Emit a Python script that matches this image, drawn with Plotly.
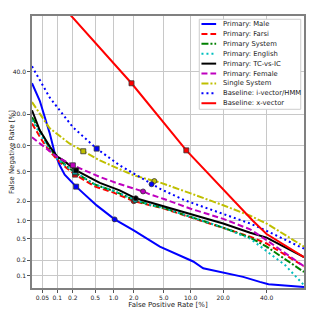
import plotly.graph_objects as go
from statistics import NormalDist

# DET curves, values in percent
male_fpr = [0.03, 0.044, 0.071, 0.089, 0.112, 0.14, 0.23, 0.53, 1.04, 2.0, 4.46, 10.6, 13.3, 21.3, 28.4, 36.5, 41, 60]
male_fnr = [34, 25.6, 13.3, 8.4, 6.0, 4.6, 3.2, 1.73, 1.05, 0.69, 0.36, 0.19, 0.14, 0.11, 0.094, 0.074, 0.066, 0.058]

farsi_fpr = [0.03, 0.05, 0.07, 0.1, 0.15, 0.22, 0.5, 1.0, 2.0, 3.33, 5, 10, 20, 31.7, 40, 60]
farsi_fnr = [16.5, 11.2, 8.8, 7.0, 5.6, 4.6, 3.2, 2.65, 2.0, 1.74, 1.55, 1.13, 0.76, 0.54, 0.41, 0.153]

system_fpr = [0.03, 0.05, 0.07, 0.1, 0.15, 0.22, 0.5, 1.0, 2.1, 3.33, 5, 10, 20, 31.7, 40, 60]
system_fnr = [18.8, 12.5, 9.5, 7.3, 5.9, 4.9, 3.4, 2.8, 2.05, 1.77, 1.58, 1.15, 0.77, 0.52, 0.36, 0.118]

english_fpr = [0.03, 0.05, 0.07, 0.1, 0.15, 0.22, 0.5, 1.0, 2.1, 3.33, 5, 10, 20, 31.7, 40, 50, 60]
english_fnr = [17.8, 12.0, 9.3, 7.2, 5.8, 4.95, 3.4, 2.8, 2.08, 1.77, 1.58, 1.15, 0.77, 0.5, 0.3, 0.16, 0.063]

tc_fpr = [0.03, 0.044, 0.071, 0.1, 0.13, 0.23, 0.6, 1.24, 2.14, 3.33, 5, 10, 20, 31.7, 40, 60]
tc_fnr = [21.5, 14.3, 9.8, 7.6, 6.9, 5.2, 3.6, 2.85, 2.2, 1.92, 1.7, 1.29, 0.9, 0.63, 0.52, 0.23]

female_fpr = [0.03, 0.05, 0.1, 0.2, 0.6, 1.2, 2.7, 3.33, 5, 10, 20, 31.7, 40, 60]
female_fnr = [12.2, 10.0, 7.5, 6.0, 4.3, 3.5, 2.75, 2.5, 2.15, 1.54, 1.07, 0.72, 0.47, 0.153]

single_fpr = [0.03, 0.07, 0.175, 0.31, 0.6, 2.0, 3.8, 4.46, 10, 15.4, 20, 31.7, 40, 60]
single_fnr = [25, 15, 10.5, 8.7, 6.85, 4.5, 3.8, 3.65, 2.58, 2.05, 1.74, 1.2, 0.9, 0.36]

ivec_fpr = [0.03, 0.071, 0.2, 0.53, 1.24, 3.5, 4.46, 8.7, 20, 31.7, 40, 60]
ivec_fnr = [43, 27, 15.3, 9.3, 6.0, 3.45, 3.0, 2.05, 1.29, 0.9, 0.68, 0.33]

xvec_fpr = [0.155, 1.86, 9.0, 24, 33, 40, 60]
xvec_fnr = [72.3, 34, 8.9, 2.05, 1.0, 0.6, 0.23]

# operating points, same order as legend
dcf_fpr = [0.23, 0.22, 0.22, 0.22, 0.23, 0.2, 0.31, 0.53, 1.86]
dcf_fnr = [3.2, 4.6, 4.9, 4.95, 5.2, 6.0, 8.7, 9.3, 34]
eer_fpr = [1.04, 2.0, 2.1, 2.1, 2.14, 2.7, 3.8, 3.5, 9.0]
eer_fnr = [1.05, 2.0, 2.05, 2.08, 2.2, 2.75, 3.8, 3.45, 8.9]
eer_symbols = ["circle"] * 8 + ["square"]

x_ticks = [0.05, 0.1, 0.2, 0.5, 1, 2, 5, 10, 20, 40]
x_labels = ["0.05", "0.1", "0.2", "0.5", "1.0", "2.0", "5.0", "10.0", "20.0", "40.0"]
y_ticks = [0.1, 0.2, 0.5, 1, 2, 5, 10, 20, 40]
y_labels = ["0.1", "0.2", "0.5", "1.0", "2.0", "5.0", "10.0", "20.0", "40.0"]
x_lim = [0.03, 60]
y_lim = [0.055, 70]

nd = NormalDist()


def probit(vals):
    return [nd.inv_cdf(v / 100.0) for v in vals]


series = [
    ("Primary: Male", male_fpr, male_fnr, "#0000ff", "solid"),
    ("Primary: Farsi", farsi_fpr, farsi_fnr, "#ff0000", "6px,3px"),
    ("Primary System", system_fpr, system_fnr, "#008000", "7px,2px,2px,2px"),
    ("Primary: English", english_fpr, english_fnr, "#00bfbf", "2px,3px"),
    ("Primary: TC-vs-IC", tc_fpr, tc_fnr, "#000000", "solid"),
    ("Primary: Female", female_fpr, female_fnr, "#bf00bf", "6px,3px"),
    ("Single System", single_fpr, single_fnr, "#bfbf00", "7px,2px,2px,2px"),
    ("Baseline: i-vector/HMM", ivec_fpr, ivec_fnr, "#0000ff", "2px,3px"),
    ("Baseline: x-vector", xvec_fpr, xvec_fnr, "#ff0000", "solid"),
]

fig = go.Figure()
for name, fx, fy, col, dash in series:
    fig.add_trace(go.Scatter(x=probit(fx), y=probit(fy), mode="lines", name=name,
                             showlegend=False,
                             line=dict(color=col, width=2, dash=dash)))
for i, (name, fx, fy, col, dash) in enumerate(series):
    fig.add_trace(go.Scatter(x=probit([dcf_fpr[i]]), y=probit([dcf_fnr[i]]), mode="markers",
                             showlegend=False,
                             marker=dict(symbol="square", size=5, color=col,
                                         line=dict(color="#333333", width=0.8))))
    fig.add_trace(go.Scatter(x=probit([eer_fpr[i]]), y=probit([eer_fnr[i]]), mode="markers",
                             showlegend=False,
                             marker=dict(symbol=eer_symbols[i], size=5, color=col,
                                         line=dict(color="#333333", width=0.8))))

# compact legend box (plotly's own legend rows are too tall at this size)
lg_left, lg_right, lg_top, lg_bottom = 0.615, 0.988, 0.988, 0.657
row_h = 0.0364
fig.add_shape(type="rect", xref="paper", yref="paper", x0=lg_left, x1=lg_right,
              y0=lg_bottom, y1=lg_top, line=dict(color="#cccccc", width=1),
              fillcolor="white", layer="above")
for i, (name, fx, fy, col, dash) in enumerate(series):
    yy = lg_top - 0.0175 - i * row_h
    fig.add_shape(type="line", xref="paper", yref="paper", x0=lg_left + 0.008, x1=lg_left + 0.062,
                  y0=yy, y1=yy, line=dict(color=col, width=2, dash=dash), layer="above")
    fig.add_annotation(x=lg_left + 0.08, y=yy, xref="paper", yref="paper", text=name,
                       showarrow=False, xanchor="left", yanchor="middle",
                       font=dict(size=6.8, color="#222222"))

axis_common = dict(showgrid=True, gridcolor="#c8c8c8", gridwidth=1, zeroline=False,
                   showline=True, linecolor="#808080", linewidth=1.5, mirror=True,
                   ticks="outside", ticklen=3, tickcolor="#555555", automargin=False,
                   tickfont=dict(size=6, color="#222222"))

fig.update_xaxes(range=probit(x_lim), tickvals=probit(x_ticks), ticktext=x_labels,
                 title=dict(text="False Positive Rate [%]", font=dict(size=7, color="#222222"), standoff=1),
                 **axis_common)
fig.update_yaxes(range=probit(y_lim), tickvals=probit(y_ticks), ticktext=y_labels,
                 title=dict(text="False Negative Rate [%]", font=dict(size=7, color="#222222"), standoff=3),
                 **axis_common)

# the page body adds an 8px offset, so the figure is sized to fit the window
fig.update_layout(
    width=304, height=304,
    margin=dict(l=24, r=8, t=8, b=24),
    paper_bgcolor="white", plot_bgcolor="white",
    font=dict(family="DejaVu Sans", color="#222222"),
    showlegend=False,
)

fig.write_html("out.html")
